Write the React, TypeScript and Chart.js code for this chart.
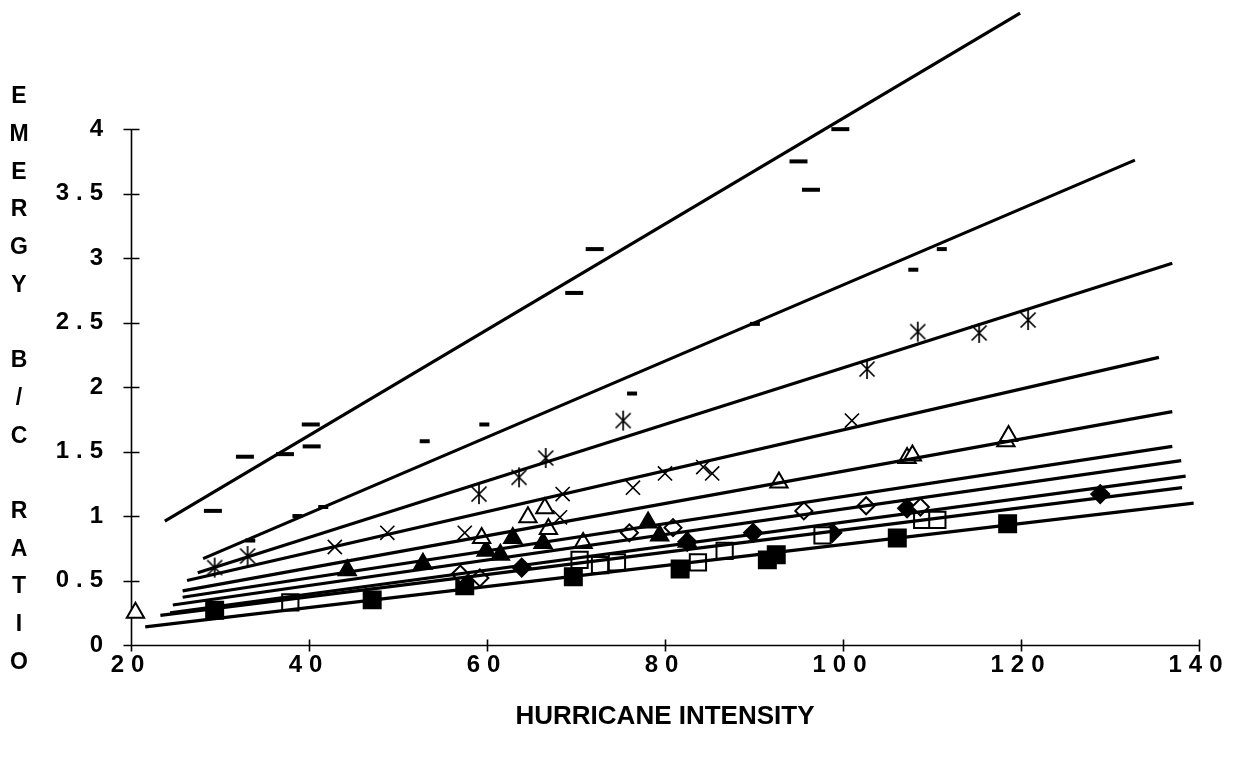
import React, { useEffect, useRef } from "react";
import { Chart, registerables } from "chart.js";

Chart.register(...registerables);

// ---- tick labels ----
const xTicks = [20, 40, 60, 80, 100, 120, 140];
const yTicks = [0, 0.5, 1, 1.5, 2, 2.5, 3, 3.5, 4];
const xTitle = "HURRICANE INTENSITY";
const yTitle = "EMERGY B/C RATIO";

// ---- observed points, one pair of arrays per marker series ----
const bigDashX = [29.2, 32.8, 37.3, 40.2, 40.3, 69.8, 72.1, 95.0, 96.4, 99.7];
const bigDashY = [1.04, 1.46, 1.48, 1.71, 1.54, 2.73, 3.07, 3.75, 3.53, 4.0];

const smallDashX = [33.4, 38.7, 41.6, 53.0, 59.7, 76.3, 90.1, 107.9, 111.1];
const smallDashY = [0.81, 1.0, 1.07, 1.58, 1.71, 1.95, 2.49, 2.91, 3.07];

const asteriskX = [29.4, 33.1, 59.1, 63.6, 66.6, 75.3, 102.7, 108.4, 115.3, 120.8];
const asteriskY = [0.6, 0.69, 1.17, 1.3, 1.45, 1.74, 2.14, 2.43, 2.42, 2.52];

const crossX = [42.9, 48.8, 57.5, 68.2, 68.5, 76.4, 80.0, 84.3, 85.3, 101.0];
const crossY = [0.76, 0.87, 0.87, 0.99, 1.17, 1.22, 1.33, 1.38, 1.33, 1.74];

const openTriX = [20.5, 59.4, 64.6, 66.5, 66.9, 70.8, 92.8, 107.2, 107.8, 118.3, 118.6];
const openTriY = [0.25, 0.83, 0.99, 1.06, 0.9, 0.79, 1.26, 1.45, 1.47, 1.58, 1.62];

const fillTriX = [44.3, 52.8, 59.9, 61.5, 62.9, 66.3, 78.1, 79.4, 82.5];
const fillTriY = [0.58, 0.63, 0.73, 0.7, 0.83, 0.79, 0.95, 0.85, 0.8];

const openDiaX = [57.0, 59.2, 76.0, 80.9, 95.6, 102.6, 108.7];
const openDiaY = [0.55, 0.52, 0.87, 0.91, 1.04, 1.08, 1.07];

const openSqX = [37.9, 70.4, 72.7, 74.6, 83.7, 86.7, 97.7, 108.9, 110.6];
const openSqY = [0.33, 0.66, 0.62, 0.64, 0.64, 0.73, 0.85, 0.97, 0.97];

const fillDiaX = [63.9, 82.5, 89.9, 98.8, 107.2, 128.9];
const fillDiaY = [0.6, 0.8, 0.87, 0.87, 1.06, 1.17];

const fillSqX = [29.4, 47.1, 57.5, 69.7, 81.7, 91.5, 92.5, 106.1, 118.5];
const fillSqY = [0.27, 0.35, 0.46, 0.53, 0.59, 0.66, 0.7, 0.83, 0.94];

// ---- trend lines (start / end), same series order ----
const trendX0 = [23.8, 28.1, 27.5, 26.3, 25.8, 25.8, 24.7, 24.4, 23.3, 21.6];
const trendY0 = [0.96, 0.67, 0.56, 0.5, 0.42, 0.37, 0.31, 0.25, 0.23, 0.14];
const trendX1 = [119.9, 132.8, 137.0, 135.5, 137.0, 137.0, 138.0, 138.5, 138.1, 139.4];
const trendY1 = [4.9, 3.76, 2.96, 2.23, 1.81, 1.54, 1.43, 1.31, 1.22, 1.1];

function makeAsterisk(): HTMLCanvasElement {
  const c = document.createElement("canvas");
  c.width = 22;
  c.height = 22;
  const g = c.getContext("2d")!;
  g.strokeStyle = "#000";
  g.lineWidth = 1.7;
  g.beginPath();
  g.moveTo(3.5, 3.5);
  g.lineTo(18.5, 18.5);
  g.moveTo(18.5, 3.5);
  g.lineTo(3.5, 18.5);
  g.moveTo(11, 1);
  g.lineTo(11, 21);
  g.stroke();
  return c;
}

const axisPlugin = {
  id: "axisDecor",
  beforeDraw(chart: any) {
    chart.ctx.letterSpacing = "7px";
  },
  beforeDatasetsDraw(chart: any) {
    const ctx = chart.ctx as CanvasRenderingContext2D;
    const xs = chart.scales.x;
    const ys = chart.scales.y;
    const x0 = Math.round(xs.getPixelForValue(20)) + 0.5;
    const y0 = Math.round(ys.getPixelForValue(0)) + 0.5;
    ctx.save();
    ctx.strokeStyle = "#000";
    ctx.lineWidth = 1.6;
    ctx.beginPath();
    // y axis
    ctx.moveTo(x0, y0);
    ctx.lineTo(x0, ys.getPixelForValue(yTicks[yTicks.length - 1]));
    yTicks.forEach((v) => {
      const py = Math.round(ys.getPixelForValue(v)) + 0.5;
      ctx.moveTo(x0 - 8, py);
      ctx.lineTo(x0 + 8, py);
    });
    // x axis
    ctx.moveTo(x0, y0);
    ctx.lineTo(xs.getPixelForValue(xTicks[xTicks.length - 1]), y0);
    xTicks.forEach((v) => {
      const px = Math.round(xs.getPixelForValue(v)) + 0.5;
      ctx.moveTo(px, y0 - 6);
      ctx.lineTo(px, y0 + 6);
    });
    ctx.stroke();
    ctx.restore();
  },
  afterDraw(chart: any) {
    const ctx = chart.ctx as CanvasRenderingContext2D;
    ctx.save();
    ctx.fillStyle = "#000";
    ctx.letterSpacing = "0px";
    ctx.textAlign = "center";
    ctx.textBaseline = "middle";
    ctx.font = 'bold 26px "Liberation Sans", Arial, sans-serif';
    ctx.fillText(xTitle, 665, 717);
    ctx.font = 'bold 23px "Liberation Sans", Arial, sans-serif';
    const chars = yTitle.split("");
    chars.forEach((ch, i) => {
      if (ch.trim() === "") return;
      ctx.fillText(ch, 19, 97 + i * 37.7);
    });
    ctx.restore();
  },
};

export default function App() {
  const ref = useRef<HTMLCanvasElement | null>(null);

  useEffect(() => {
    if (!ref.current) return;
    const asterisk = makeAsterisk();

    const series = [
      { x: bigDashX, y: bigDashY, style: "line", r: 9, bw: 4, bg: "#000" },
      { x: smallDashX, y: smallDashY, style: "line", r: 5, bw: 4, bg: "#000" },
      { x: asteriskX, y: asteriskY, style: asterisk, r: 11, bw: 1, bg: "#000" },
      { x: crossX, y: crossY, style: "crossRot", r: 10, bw: 1.6, bg: "#000" },
      { x: openTriX, y: openTriY, style: "triangle", r: 10, bw: 2, bg: "#fff" },
      { x: fillTriX, y: fillTriY, style: "triangle", r: 10, bw: 2, bg: "#000" },
      { x: openDiaX, y: openDiaY, style: "rectRot", r: 8.5, bw: 2, bg: "#fff" },
      { x: openSqX, y: openSqY, style: "rect", r: 11.5, bw: 2, bg: "#fff" },
      { x: fillDiaX, y: fillDiaY, style: "rectRot", r: 9, bw: 2, bg: "#000" },
      { x: fillSqX, y: fillSqY, style: "rect", r: 12, bw: 2, bg: "#000" },
    ];

    const datasets: any[] = [];
    series.forEach((s, i) => {
      datasets.push({
        label: "series" + (i + 1),
        data: s.x.map((v, j) => ({ x: v, y: s.y[j] })),
        showLine: false,
        pointStyle: s.style,
        pointRadius: s.r,
        pointBorderWidth: s.bw,
        pointBackgroundColor: s.bg,
        pointBorderColor: "#000",
        order: 1,
        clip: false,
      });
      datasets.push({
        label: "trend" + (i + 1),
        data: [
          { x: trendX0[i], y: trendY0[i] },
          { x: trendX1[i], y: trendY1[i] },
        ],
        showLine: true,
        borderColor: "#000",
        borderWidth: 3.2,
        pointRadius: 0,
        order: 0,
        clip: false,
      });
    });

    const tickFont = { family: '"Liberation Sans", Arial, sans-serif', size: 24, weight: "bold" as const };
    const zeroPad = (s: any) => {
      s.paddingTop = 0;
      s.paddingBottom = 0;
      s.paddingLeft = 0;
      s.paddingRight = 0;
    };

    const chart = new Chart(ref.current, {
      type: "scatter",
      data: { datasets },
      options: {
        responsive: false,
        devicePixelRatio: 1,
        animation: false,
        events: [],
        layout: { padding: { top: 4, right: 37, left: 0, bottom: 0 } },
        plugins: { legend: { display: false }, tooltip: { enabled: false } },
        scales: {
          x: {
            type: "linear",
            min: 20,
            max: 140,
            afterBuildTicks: (s: any) => {
              s.ticks = xTicks.map((v) => ({ value: v }));
            },
            afterFit: (s: any) => {
              s.height = 116;
              zeroPad(s);
            },
            grid: { display: false, drawTicks: false },
            border: { display: false },
            ticks: { color: "#000", font: tickFont, padding: 6, maxRotation: 0, autoSkip: false, callback: (v: any) => String(v) },
          },
          y: {
            type: "linear",
            min: 0,
            max: 4.893,
            afterBuildTicks: (s: any) => {
              s.ticks = yTicks.map((v) => ({ value: v }));
            },
            afterFit: (s: any) => {
              s.width = 131;
              zeroPad(s);
            },
            grid: { display: false, drawTicks: false },
            border: { display: false },
            ticks: { color: "#000", font: tickFont, padding: 21, autoSkip: false, callback: (v: any) => String(v) },
          },
        },
      },
      plugins: [axisPlugin],
    });

    return () => chart.destroy();
  }, []);

  return (
    <div style={{ position: "fixed", left: 0, top: 0, width: 1236, height: 761, background: "#fff" }}>
      <canvas ref={ref} width={1236} height={761} style={{ display: "block" }} />
    </div>
  );
}
